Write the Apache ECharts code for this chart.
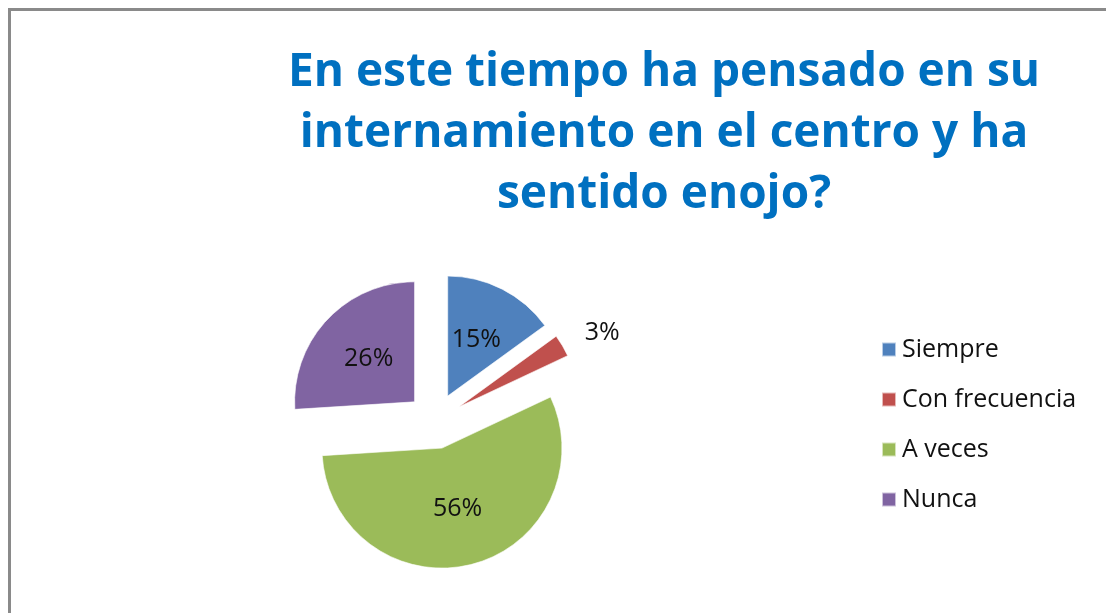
<!DOCTYPE html>
<html>
<head>
<meta charset="utf-8">
<script src="https://cdn.jsdelivr.net/npm/echarts@6/dist/echarts.min.js"></script>
<style>
  html, body { margin: 0; padding: 0; background: #fff; overflow: hidden; }
  #frame { position: absolute; left: 8px; top: 8px; width: 1300px; height: 800px; border: 3px solid #8a8a8a; }
  #chart { position: absolute; left: 0; top: 0; width: 1106px; height: 613px; }
</style>
</head>
<body>
<div id="frame"></div>
<div id="chart"></div>
<script>
// datos de la encuesta
const titleText = 'En este tiempo ha pensado en su\ninternamiento en el centro y ha\nsentido enojo?'
const categories = ['Siempre', 'Con frecuencia', 'A veces', 'Nunca']
const percents = [15, 3, 56, 26]
const colors = ['#4F81BD', '#C0504D', '#9BBB59', '#8064A2']

const chart = echarts.init(document.getElementById('chart'))

const pieData = categories.map((name, i) => {
  const item = { name: name, value: percents[i], selected: true, itemStyle: { color: colors[i] } }
  // la porción pequeña lleva su etiqueta afuera
  if (percents[i] < 5) {
    item.label = { position: 'outside', distanceToLabelLine: 0 }
    item.labelLine = { show: false, length: 26, length2: 0 }
  }
  return item
})

chart.setOption({
  animation: false,
  backgroundColor: 'transparent',
  title: {
    text: titleText,
    left: 659,
    top: 37,
    textAlign: 'center',
    textStyle: {
      color: '#0070C0',
      fontFamily: 'Open Sans',
      fontWeight: 'bold',
      fontSize: 46,
      lineHeight: 61
    }
  },
  legend: {
    orient: 'vertical',
    left: 876,
    top: 332,
    itemWidth: 14,
    itemHeight: 14,
    itemGap: 25,
    icon: 'rect',
    selectedMode: false,
    data: categories,
    textStyle: { color: '#111', fontFamily: 'Open Sans', fontSize: 25, padding: [0, 0, 0, 1] }
  },
  series: [{
    type: 'pie',
    center: [435, 421],
    radius: 120,
    startAngle: 90,
    selectedMode: 'multiple',
    selectedOffset: 28,
    avoidLabelOverlap: false,
    emphasis: { disabled: true },
    label: {
      show: true,
      position: 'inside',
      formatter: '{c}%',
      color: '#111',
      fontFamily: 'Open Sans',
      fontSize: 25,
      textBorderWidth: 0
    },
    labelLine: { show: false },
    itemStyle: { borderColor: 'rgba(255,255,255,0.6)', borderWidth: 1 },
    data: pieData
  }]
})
</script>
</body>
</html>
